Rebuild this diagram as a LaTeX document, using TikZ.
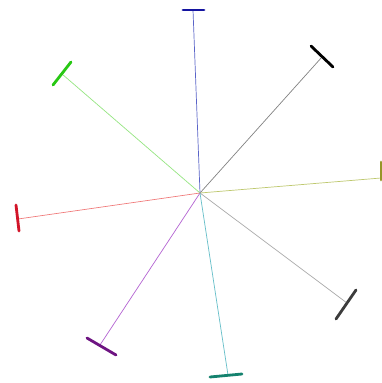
\documentclass[tikz,border=0pt]{standalone}
\begin{document}
\begin{tikzpicture}[x=1pt,y=-1pt,
  spoke/.style={line width=0.7pt},
  bar/.style={line width=2.8pt,line cap=round}]
\useasboundingbox[fill=white] (0,0) rectangle (382,383);
\coordinate (c) at (200,193);
% blue
\coordinate (eb) at (193,10);
\draw[spoke,color={rgb,255:red,90;green,100;blue,200}] (c) -- (eb);
\draw[bar,color={rgb,255:red,20;green,20;blue,160}] (183,10) -- (204,10);
% black
\coordinate (ek) at (322,57);
\draw[spoke,color={rgb,255:red,130;green,130;blue,130}] (c) -- (ek);
\draw[bar,color=black] (311,46) -- (333,67);
% green
\coordinate (eg) at (62,74);
\draw[spoke,color={rgb,255:red,150;green,230;blue,130}] (c) -- (eg);
\draw[bar,color={rgb,255:red,40;green,200;blue,20}] (53,85) -- (71,62);
% olive
\coordinate (eo) at (381,178);
\draw[spoke,color={rgb,255:red,190;green,200;blue,110}] (c) -- (eo);
\draw[bar,color={rgb,255:red,150;green,150;blue,40}] (381,162) -- (381,180);
% red
\coordinate (er) at (18,219);
\draw[spoke,color={rgb,255:red,240;green,120;blue,120}] (c) -- (er);
\draw[bar,color={rgb,255:red,210;green,20;blue,40}] (16,205) -- (19,231);
% dark gray
\coordinate (ed) at (347,303);
\draw[spoke,color={rgb,255:red,170;green,170;blue,170}] (c) -- (ed);
\draw[bar,color={rgb,255:red,60;green,60;blue,60}] (336,319) -- (356,290);
% purple
\coordinate (ep) at (100,345);
\draw[spoke,color={rgb,255:red,180;green,100;blue,210}] (c) -- (ep);
\draw[bar,color={rgb,255:red,110;green,20;blue,130}] (87,338) -- (116,355);
% teal
\coordinate (et) at (228,375);
\draw[spoke,color={rgb,255:red,100;green,190;blue,200}] (c) -- (et);
\draw[bar,color={rgb,255:red,20;green,130;blue,110}] (210,377) -- (242,374);
\end{tikzpicture}
\end{document}
